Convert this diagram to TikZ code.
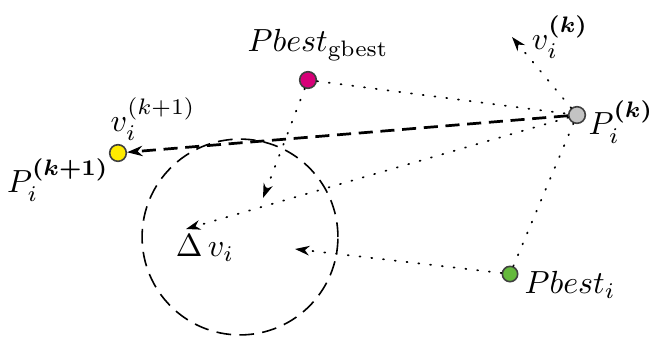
\documentclass[tikz,border=0pt]{standalone}
\usepackage{amsmath,bm}
\usetikzlibrary{arrows.meta}
\definecolor{magdot}{RGB}{215,0,120}
\definecolor{yeldot}{RGB}{255,235,0}
\definecolor{grndot}{RGB}{100,185,60}
\definecolor{grydot}{RGB}{195,195,195}
\begin{document}
\begin{tikzpicture}[x=0.3125pt,y=-0.3125pt,
  dotnode/.style={circle,draw=black!75,line width=0.5pt,inner sep=0pt,minimum size=5.2pt},
  dotline/.style={line width=0.55pt,dash pattern=on 0.3pt off 3.4pt,line cap=round},
  tipa/.style={-{Stealth[length=4.5pt,width=3pt,inset=1.4pt]}},
  lbl/.style={inner sep=1pt}
]
\useasboundingbox (0,0) rectangle (649,338);
% points
\node[dotnode,fill=grydot] (p) at (577,115) {};
\node[dotnode,fill=magdot] (g) at (308,80) {};
\node[dotnode,fill=yeldot] (y) at (118,153) {};
\node[dotnode,fill=grndot,minimum size=4.8pt] (b) at (510,274) {};
% free ends
\coordinate (vk) at (512,37);
\coordinate (dv) at (186,229);
\coordinate (ga) at (263,198);
\coordinate (ba) at (295,249);
% circle
\draw[line width=0.5pt,dash pattern=on 4.6pt off 2.6pt] (240,237) circle[radius=30.6pt];
% dotted lines
\draw[dotline] (g) -- (p);
\draw[dotline] (p) -- (b);
\draw[dotline,tipa] (p) -- (vk);
\draw[dotline,tipa] (p) -- (dv);
\draw[dotline,tipa] (g) -- (ga);
\draw[dotline,tipa] (b) -- (ba);
% dashed main
\draw[line width=0.85pt,dash pattern=on 4.4pt off 2.4pt,-{Stealth[length=4.8pt,width=3.2pt,inset=1.5pt]}] (p) -- (y);
% labels
\node[lbl] (lg) at (318,45) {$Pbest_{\mathrm{gbest}}$};
\node[lbl] (lvk) at (560,37) {$v_i^{\bm{(k)}}$};
\node[lbl] (lpk) at (621,122) {$P_i^{\bm{(k)}}$};
\node[lbl] (lvk1) at (153,119) {$v_i^{(k+1)}$};
\node[lbl] (lpk1) at (58,180) {$P_i^{\bm{(k+1)}}$};
\node[lbl] (ldv) at (205,248) {$\Delta\, v_i$};
\node[lbl] (lb) at (570,285) {$Pbest_i$};
\end{tikzpicture}
\end{document}
